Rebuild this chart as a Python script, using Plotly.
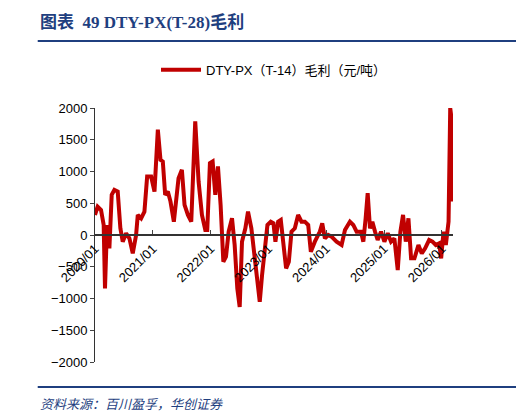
import plotly.graph_objects as go
import pandas as pd

# 年份偏移（相对2020/01），读图估计
年份 = [0, .046, .104, .150, .173, .208, .249, .289, .335, .393, .439, .480, .538, .595, .653, .711,
        .740, .798, .855, .902, .971, 1.029, 1.087, 1.133, 1.173, 1.214, 1.260, 1.306, 1.364, 1.410,
        1.445, 1.503, 1.549, 1.607, 1.665, 1.734, 1.792, 1.850, 1.908, 1.942, 1.988, 2.035, 2.081,
        2.127, 2.173, 2.220, 2.266, 2.312, 2.370, 2.416, 2.462, 2.503, 2.543, 2.601, 2.647, 2.705,
        2.751, 2.792, 2.850, 2.890, 2.936, 2.983, 3.040, 3.087, 3.121, 3.168, 3.214, 3.260, 3.306,
        3.353, 3.399, 3.457, 3.514, 3.572, 3.630, 3.688, 3.734, 3.803, 3.890, 3.931, 3.977, 4.035,
        4.092, 4.179, 4.266, 4.324, 4.410, 4.468, 4.526, 4.601, 4.642, 4.682, 4.717, 4.757, 4.798,
        4.844, 4.890, 4.948, 5.006, 5.064, 5.121, 5.179, 5.237, 5.283, 5.329, 5.376, 5.422, 5.468,
        5.526, 5.595, 5.653, 5.711, 5.780, 5.838, 5.896, 5.954, 5.988, 6.029, 6.069, 6.116, 6.145,
        6.173, 6.185]
毛利 = [316, 447, 395, 158, -842, 158, -210, 632, 710, 684, 105, -105, 26, -53, -290, 0,
        316, 263, 368, 921, 921, 684, 1658, 1184, 1158, 632, 684, 526, 210, 579,
        895, 1026, 474, 316, 210, 1789, 842, 316, 79, 79, 1132, 1158, 632,
        1079, 474, -421, -342, 53, 263, -158, -842, -1132, -105, 105, 368, 105,
        -263, -632, -1053, -632, -210, 158, 210, 184, -105, 210, 237, -158, -526,
        -421, 53, 105, 316, 210, 210, 158, -263, -105, 53, 184, -53, 0,
        -26, -105, -158, 79, 210, 158, 53, 53, -105, 263, 658, 105, 210,
        53, -79, 53, -105, 26, -105, -53, -553, 53, 316, -105, 263, -368,
        -368, -158, -290, -210, -79, -105, -158, -132, -368, 53, -158, 210, 2000,
        1789, 526]

日期 = [pd.Timestamp('2020-01-01') + pd.Timedelta(days=a * 365.25) for a in 年份]
刻度 = ['%d-01-01' % y for y in range(2020, 2027)]
刻度文字 = ['%d/01' % y for y in range(2020, 2027)]

蓝 = '#1f3f7f'
fig = go.Figure()
fig.add_trace(go.Scatter(x=日期, y=毛利, mode='lines', name='DTY-PX（T-14）毛利（元/吨）',
                         line=dict(color='#c00000', width=4)))
fig.update_layout(
    width=524, height=413, plot_bgcolor='white', paper_bgcolor='white',
    margin=dict(l=87, r=79, t=100, b=59, autoexpand=False),
    font=dict(family='Liberation Sans, Noto Sans CJK SC', size=13, color='black'),
    showlegend=True,
    legend=dict(orientation='h', x=0.5, xanchor='center', y=1.15, yanchor='middle',
                font=dict(size=13), itemwidth=40),
    xaxis=dict(range=['2020-01-01', '2026-03-12'], tickvals=刻度, ticktext=刻度文字,
               tickangle=-45, anchor='free', position=0.5, showline=True, linecolor='#333',
               linewidth=2, ticks='inside', ticklen=4, showgrid=False, zeroline=False),
    yaxis=dict(range=[-2000, 2000], dtick=500, showline=True, linecolor='#333', linewidth=1,
               ticks='outside', ticklen=4, showgrid=False, zeroline=False),
    shapes=[
        dict(type='line', xref='paper', yref='paper', x0=-0.16, x1=1.2, y0=1.264, y1=1.264,
             line=dict(color=蓝, width=2)),
        dict(type='line', xref='paper', yref='paper', x0=-0.16, x1=1.2, y0=-0.098, y1=-0.098,
             line=dict(color=蓝, width=2)),
    ],
    annotations=[
        dict(text='<b>图表  49 DTY-PX(T-28)毛利</b>', xref='paper', yref='paper', x=-0.16, y=1.335,
             xanchor='left', yanchor='middle', showarrow=False,
             font=dict(family='Liberation Serif, Noto Sans CJK SC', size=17, color=蓝)),
        dict(text='<i>资料来源：百川盈孚，华创证券</i>', xref='paper', yref='paper', x=-0.16, y=-0.165,
             xanchor='left', yanchor='middle', showarrow=False,
             font=dict(family='Noto Sans CJK SC', size=13, color=蓝)),
    ],
)
fig.write_html('out.html')
